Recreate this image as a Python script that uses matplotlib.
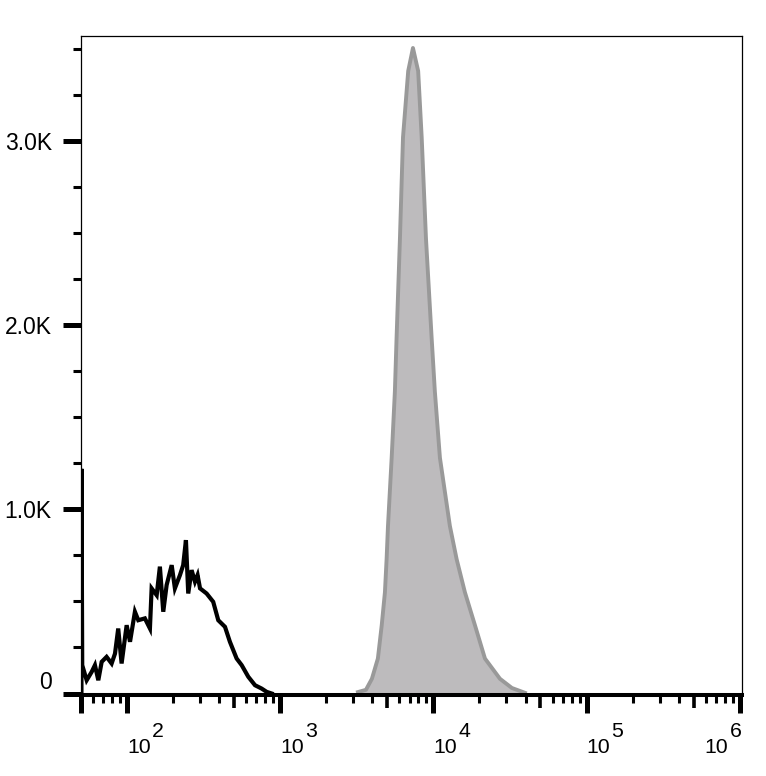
import numpy as np
import matplotlib
matplotlib.use('Agg')
import matplotlib.pyplot as plt
from matplotlib.ticker import FixedLocator, NullLocator

plt.rcParams['font.family'] = ['Liberation Sans', 'DejaVu Sans']

# ---- data (log10 intensity, event count) ----
stained_log = [3.508, 3.560, 3.599, 3.638, 3.663, 3.684, 3.695, 3.704, 3.728,
               3.749, 3.760, 3.782, 3.802, 3.836, 3.867, 3.901, 3.924, 3.952,
               3.989, 4.010, 4.043, 4.108, 4.152, 4.206, 4.272, 4.337, 4.435,
               4.513, 4.598]
stained_count = [8, 20, 80, 190, 370, 550, 730, 910, 1280,
                 1640, 1930, 2470, 3020, 3380, 3505, 3380, 3020, 2470,
                 1930, 1640, 1280, 910, 730, 550, 370, 190, 80,
                 30, 4]

control_log = [1.703, 1.703, 1.708, 1.737, 1.770, 1.791, 1.813, 1.835, 1.867,
               1.900, 1.922, 1.943, 1.965, 1.998, 2.020, 2.052, 2.074, 2.117,
               2.150, 2.161, 2.194, 2.215, 2.237, 2.259, 2.292, 2.313, 2.346,
               2.367, 2.385, 2.400, 2.422, 2.444, 2.461, 2.477, 2.520, 2.563,
               2.596, 2.640, 2.672, 2.716, 2.749, 2.792, 2.836, 2.879, 2.912,
               2.945]
control_count = [0, 1220, 154, 72, 118, 154, 72, 172, 199,
                 163, 217, 353, 163, 371, 281, 444, 398, 408,
                 353, 571, 534, 689, 444, 589, 697, 571, 643,
                 697, 833, 543, 670, 607, 643, 571, 543, 498,
                 398, 362, 281, 190, 154, 91, 45, 27, 9,
                 0]

y_major = [0, 1000, 2000, 3000]
y_labels = ['0', '1.0K', '2.0K', '3.0K']
y_minor = [250, 500, 750, 1250, 1500, 1750, 2250, 2500, 2750, 3250, 3500]
x_decades = [2, 3, 4, 5, 6]
x_base = '10'
x_range_log = (1.70, 6.015)
y_range = (-8, 3570)

# ---- figure ----
fig = plt.figure(figsize=(7.66, 7.76), dpi=100)
ax = fig.add_axes([81 / 766, 1 - 695 / 776, (742 - 81) / 766, (695 - 36) / 776])
ax.set_xscale('log')
ax.set_xlim(10 ** x_range_log[0], 10 ** x_range_log[1])
ax.set_ylim(*y_range)

sx = 10 ** np.array(stained_log)
sy = np.array(stained_count)
cx = 10 ** np.array(control_log)
cy = np.array(control_count)

ax.fill_between(sx, sy, 0, color='#bdbbbd', lw=0, zorder=2)
ax.plot(sx, sy, color='#999999', lw=2.8, zorder=3, solid_joinstyle='round')
ax.plot([cx[0], cx[-1]], [0, 0], color='#999999', lw=2.2, zorder=3)
ax.plot(cx, cy, color='black', lw=3.0, zorder=4, solid_joinstyle='miter')

# x ticks
majors = [10 ** x_range_log[0]] + [10.0 ** d for d in x_decades]
ax.xaxis.set_major_locator(FixedLocator(majors))
ax.set_xticklabels([''] * len(majors))
minor = []
fives = []
for d in range(1, 6):
    for m in range(2, 10):
        v = m * 10.0 ** d
        if 10 ** x_range_log[0] * 1.01 < v < 10 ** x_range_log[1]:
            (fives if m == 5 else minor).append(v)
ax.xaxis.set_minor_locator(FixedLocator(minor))
ax.tick_params(axis='x', which='major', length=13, width=3.6, direction='out',
               color='black')
ax.tick_params(axis='x', which='minor', length=6, width=2.2, direction='out')

# decade labels: "10" with a full-size raised exponent
fs = 15.3
for i, d in enumerate(x_decades):
    last = (i == len(x_decades) - 1)
    if last:
        bx, ex, ha = -11.5, 2, 'right'
    else:
        bx, ex, ha = 0, 25, 'left'
    ax.annotate(x_base, xy=(10.0 ** d, 0), xycoords=('data', 'axes fraction'),
                xytext=(bx, -57.7), textcoords='offset pixels',
                ha=ha, va='baseline', fontsize=fs, annotation_clip=False)
    ax.annotate(str(d), xy=(10.0 ** d, 0), xycoords=('data', 'axes fraction'),
                xytext=(ex, -42.3), textcoords='offset pixels',
                ha=ha, va='baseline', fontsize=fs, annotation_clip=False)

# y ticks
ax.yaxis.set_major_locator(FixedLocator(y_major))
ax.set_yticklabels(y_labels)
ax.yaxis.set_minor_locator(FixedLocator(y_minor))
ax.tick_params(axis='y', which='major', length=13, width=3.6, direction='out',
               labelsize=16.5, pad=8)
ax.tick_params(axis='y', which='minor', length=6, width=2.2, direction='out')
ax.get_yticklabels()[0].set_va('bottom')

for s in ['left', 'top', 'right']:
    ax.spines[s].set_linewidth(0.9)
ax.spines['bottom'].set_linewidth(2.9)
ax.spines['bottom'].set_zorder(5)

# medium ticks at 5 x 10^k
ax2 = ax.twiny()
ax2.set_xscale('log')
ax2.set_xlim(ax.get_xlim())
ax2.xaxis.set_ticks_position('bottom')
ax2.xaxis.set_major_locator(FixedLocator(fives))
ax2.xaxis.set_minor_locator(NullLocator())
ax2.set_xticklabels([])
ax2.tick_params(axis='x', which='major', length=9, width=2.6, direction='out')
for s in ax2.spines.values():
    s.set_visible(False)

fig.savefig('out.png', dpi=100)
